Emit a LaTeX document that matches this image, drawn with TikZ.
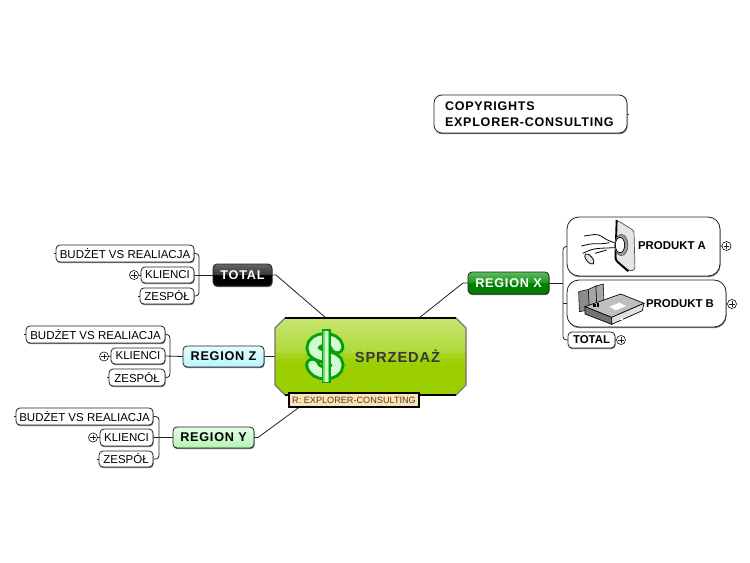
\documentclass[tikz,border=0pt]{standalone}
\usepackage{fontspec}
\setmainfont{Liberation Sans}
\usetikzlibrary{shadows,backgrounds,calc}
\newfontfamily\spaced[LetterSpace=6]{Liberation Sans}
\definecolor{linec}{HTML}{222222}
\definecolor{c9a}{HTML}{9CCF00}\definecolor{ca8}{HTML}{A6D41E}\definecolor{cb8}{HTML}{AEDA3A}\definecolor{cc8}{HTML}{C8E570}
\definecolor{kb}{HTML}{3A3A3A}\definecolor{kt}{HTML}{666666}
\definecolor{gb}{HTML}{007F00}\definecolor{gm}{HTML}{1E9A1E}\definecolor{gt}{HTML}{5CBA5C}
\definecolor{cyb}{HTML}{B8F4FC}\definecolor{cyt}{HTML}{E8FCFF}
\definecolor{mb}{HTML}{B4F4B4}\definecolor{mt}{HTML}{E4FCE4}
\definecolor{notefill}{HTML}{FFE3B3}
\definecolor{dgreen}{HTML}{00A010}\definecolor{lgreen}{HTML}{D4FBD0}\definecolor{mgreen}{HTML}{6EDC6A}
\pgfdeclareverticalshading{centralshade}{100bp}{color(0bp)=(c9a);color(25bp)=(c9a);color(45bp)=(c9a);color(52bp)=(ca8);color(53bp)=(cb8);color(75bp)=(cc8);color(100bp)=(cc8)}
\pgfdeclareverticalshading{blackshade}{100bp}{color(0bp)=(black);color(25bp)=(black);color(50bp)=(black);color(52bp)=(kb);color(75bp)=(kt);color(100bp)=(kt)}
\pgfdeclareverticalshading{greenshade}{100bp}{color(0bp)=(gb);color(25bp)=(gb);color(50bp)=(gb);color(52bp)=(gm);color(75bp)=(gt);color(100bp)=(gt)}
\pgfdeclareverticalshading{cyanshade}{100bp}{color(0bp)=(cyb);color(25bp)=(cyb);color(75bp)=(cyt);color(100bp)=(cyt)}
\pgfdeclareverticalshading{mintshade}{100bp}{color(0bp)=(mb);color(25bp)=(mb);color(75bp)=(mt);color(100bp)=(mt)}
\tikzset{
  every node/.style={outer sep=0pt,inner sep=0pt},
  softshadow/.style={drop shadow={shadow xshift=.4pt,shadow yshift=-.9pt,fill=black!55,opacity=1}},
  leaf/.style={draw=linec,line width=.6pt,fill=white,rounded corners=3pt,softshadow,font=\fontsize{8.63}{10}\selectfont},
  region/.style={draw=linec,line width=.6pt,rounded corners=3pt,softshadow,font=\spaced\bfseries\fontsize{9.5}{11}\selectfont},
  conn/.style={draw=linec,line width=.6pt},
  bus/.style={conn,rounded corners=2.5pt},
  plusmark/.style={circle,draw=linec,line width=.5pt,fill=white,minimum size=6.8pt,
    path picture={\draw[line width=.5pt,linec] ([xshift=-2.2pt]path picture bounding box.center)--([xshift=2.2pt]path picture bounding box.center);
    \draw[line width=.5pt,linec] ([yshift=-2.2pt]path picture bounding box.center)--([yshift=2.2pt]path picture bounding box.center);}},
  boldlab/.style={font=\bfseries\fontsize{8.55}{10}\selectfont},
  dollarpath/.style={line cap=round},
}
\newcommand\bx[7]{\node[#6,minimum width={(#4-#2)*0.75pt},minimum height={(#5-#3)*0.75pt}] (#1) at ({(#2+#4)/2},{(#3+#5)/2}) {#7};}
\newcommand\dollarcurve{(337,347) .. controls (336,342) and (331,339.5) .. (325,339.5) .. controls (318,339.5) and (313,343) .. (313,348) .. controls (313,353) and (319,355) .. (325,356.5) .. controls (331,358) and (337,360) .. (337,365) .. controls (337,370) and (332,373) .. (325,373) .. controls (319,373) and (314,370) .. (312.5,365)}
\begin{document}
\begin{tikzpicture}[x=0.75pt,y=-0.75pt]
\useasboundingbox (0,0) rectangle (750,563);

% central topic
\shade[shading=centralshade,draw=black!55,line width=.8pt] (285,318)--(456,318)--(466,328)--(466,385)--(456,395)--(285,395)--(275,385)--(275,328)--cycle;
\node[minimum width=143.2pt,minimum height=57.7pt] (cen) at (370.5,356.5) {};
\draw[black,line width=.8pt] (285,318)--(456,318);
\draw[black,line width=.8pt] (285,395)--(456,395);
\node[font=\spaced\bfseries\fontsize{11}{13}\selectfont,text=black!78] (centxt) at (397.5,356.5) {SPRZEDAŻ};
% dollar icon
\draw[dollarpath,line width=11pt,draw=dgreen] \dollarcurve;
\draw[dollarpath,line width=6.6pt,draw=lgreen] \dollarcurve;
\fill[dgreen] (321.5,329) rectangle (330.5,383);
\fill[mgreen] (323,330.5) rectangle (329,381.5);
\fill[lgreen] (324.5,330.5) rectangle (327.5,381.5);

% note
\bx{note}{289}{393}{419}{407}{draw=black,line width=.8pt,fill=notefill,font=\fontsize{6.85}{8}\selectfont,text=black!75}{R: EXPLORER-CONSULTING}

% copyrights
\bx{copy}{434}{95}{627}{133}{draw=linec,line width=.6pt,fill=white,rounded corners=6pt,softshadow}{}
\node[anchor=west,align=left,font=\spaced\bfseries\fontsize{9.4}{12}\selectfont] (copytxt) at (445,114) {COPYRIGHTS\\EXPLORER-CONSULTING};

% region X
\bx{regx}{468}{272}{549}{294}{region,shading=greenshade,text=white}{REGION X}
\bx{proda}{567}{217}{720}{276}{draw=linec,line width=.6pt,fill=white,rounded corners=9pt,softshadow}{}
\bx{prodb}{567}{280}{726}{327}{draw=linec,line width=.6pt,fill=white,rounded corners=9pt,softshadow}{}
\node[boldlab] (ta) at (672,246) {PRODUKT A};
\node[boldlab] (tb) at (680,304) {PRODUKT B};
\bx{totx}{568}{332}{615}{348}{leaf,font=\bfseries\fontsize{8.55}{10}\selectfont}{TOTAL}
\node[plusmark] (pa) at (726.5,246) {};
\node[plusmark] (pb) at (732,304) {};
\node[plusmark] (pc) at (621,340) {};

% hand icon
\begin{scope}[shift={(460,210)},x=0.25pt,y=-0.25pt]
\filldraw[fill=black!10,draw=black!70,line width=.5pt,rounded corners=2pt] (470,30)--(522,62)--(525,180)--(508,183)--(468,150)--cycle;
\draw[black,line width=1.4pt,rounded corners=2pt] (470,30)--(466,150)--(505,184);
\filldraw[fill=black!40,draw=black!70,line width=.4pt] (484,105) ellipse (20 and 32);
\filldraw[fill=white,draw=black,line width=.5pt] (480,105) ellipse (14 and 23);
\draw[black,line width=.6pt,rounded corners=3pt] (372,78)--(415,72)--(440,90)--(463,98);
\draw[black,line width=.6pt,rounded corners=3pt] (364,108)--(400,100)--(425,102)--(448,98);
\draw[black,line width=.6pt,rounded corners=3pt] (368,130)--(395,118)--(415,115)--(465,113);
\filldraw[fill=black!12,draw=black,line width=.6pt,rotate around={-50:(388,147)}] (388,147) ellipse (19 and 9);
\draw[black,line width=.6pt] (405,130)--(440,120);
\end{scope}

% device icon
\begin{scope}[shift={(460,210)},x=0.25pt,y=-0.25pt]
\filldraw[fill=black!45,draw=black,line width=.4pt] (356,245)--(386,238)--(388,300)--(358,305)--cycle;
\filldraw[fill=black!35,draw=black,line width=.4pt] (385,238)--(408,228)--(410,285)--(388,295)--cycle;
\filldraw[fill=black!35,draw=black,line width=.4pt] (408,228)--(430,222)--(432,275)--(410,285)--cycle;
\filldraw[fill=black!25,draw=black,line width=.5pt] (375,290)--(482,252)--(552,280)--(455,322)--cycle;
\filldraw[fill=black!55,draw=black,line width=.5pt] (375,290)--(455,322)--(455,343)--(375,312)--cycle;
\filldraw[fill=black!12,draw=black,line width=.5pt] (455,322)--(552,280)--(547,302)--(455,343)--cycle;
\fill[white] (448,290)--(478,278)--(498,288)--(468,301)--cycle;
\fill[black] (400,282) rectangle (407,292);
\fill[black] (411,280) rectangle (418,290);
\fill[white] (480,325) rectangle (490,329);
\end{scope}

% TOTAL
\bx{tot}{213}{264}{272}{286}{region,shading=blackshade,text=white}{TOTAL}
\bx{ab}{56}{245}{194}{262}{leaf}{BUDŻET VS REALIACJA}
\bx{ak}{141}{267}{194}{283}{leaf}{KLIENCI}
\bx{az}{140}{288}{194}{304}{leaf}{ZESPÓŁ}
\node[plusmark] (ap) at (134,275) {};

% REGION Z
\bx{regz}{183}{346}{264}{367}{region,shading=cyanshade}{REGION Z}
\bx{bb}{26}{326}{165}{343}{leaf}{BUDŻET VS REALIACJA}
\bx{bk}{111}{348}{165}{364}{leaf}{KLIENCI}
\bx{bz}{109}{369}{165}{386}{leaf}{ZESPÓŁ}
\node[plusmark] (bp) at (104,356.5) {};

% REGION Y
\bx{regy}{173}{427}{254}{448}{region,shading=mintshade}{REGION Y}
\bx{cb}{16}{408}{153}{425}{leaf}{BUDŻET VS REALIACJA}
\bx{ck}{100}{429}{153}{446}{leaf}{KLIENCI}
\bx{cz}{99}{451}{153}{467}{leaf}{ZESPÓŁ}
\node[plusmark] (cp) at (93,437.5) {};

% connectors behind everything
\coordinate (ax) at (199,275);
\coordinate (bx) at (170,356.5);
\coordinate (cx) at (159,437.5);
\coordinate (dx) at (563,283);
\coordinate (e1) at (326,318);
\coordinate (e2) at (276,275);
\coordinate (e3) at (419,318);
\coordinate (e4) at (463,283);
\coordinate (e5) at (305,403);
\coordinate (e6) at (258,437.5);
\coordinate (ct) at (629,114);
\begin{scope}[on background layer]
\fill[white] (0,0) rectangle (750,563);
\draw[conn] (e1)--(e2)--(tot.east);
\draw[conn] (e3)--(e4)--(regx.west);
\draw[conn] (e5)--(e6)--(regy.east);
\draw[conn] (regz.east)--(cen.west);
\draw[conn] (copy.east)--(ct);
\draw[conn] (regx.east)--(dx);
\draw[bus] (proda.west) -| (dx) |- (totx.west);
\draw[conn] (prodb.west)--(prodb.west-|dx);
\draw[conn] (tot.west)--(ak.east);
\draw[bus] (ab.east) -| (ax) |- (az.east);
\draw[conn] (regz.west)--(bk.east);
\draw[bus] (bb.east) -| (bx) |- (bz.east);
\draw[conn] (regy.west)--(ck.east);
\draw[bus] (cb.east) -| (cx) |- (cz.east);
\draw[conn] (ak.west)--(ap.east);
\draw[conn] (bk.west)--(bp.east);
\draw[conn] (ck.west)--(cp.east);
\draw[conn] (proda.east)--(pa.west);
\draw[conn] (prodb.east)--(pb.west);
\draw[conn] (totx.east)--(pc.west);
\draw[conn] (ab.west)--++(-2,0);
\draw[conn] (az.west)--++(-2,0);
\draw[conn] (bb.west)--++(-2,0);
\draw[conn] (bz.west)--++(-2,0);
\draw[conn] (cb.west)--++(-2,0);
\draw[conn] (cz.west)--++(-2,0);
\end{scope}
\end{tikzpicture}
\end{document}
